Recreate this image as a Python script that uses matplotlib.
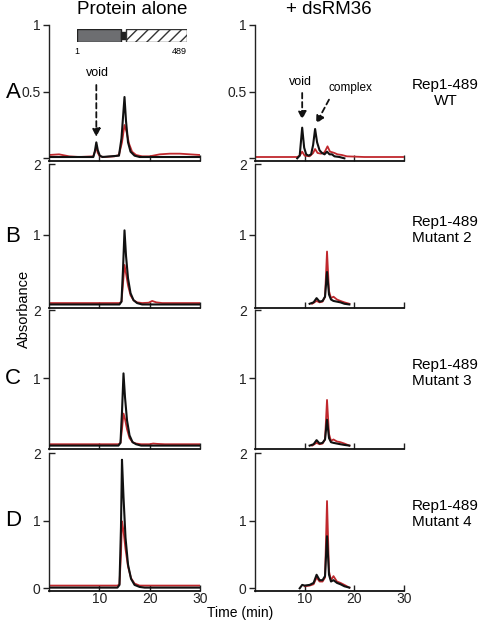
import matplotlib
matplotlib.use("Agg")
import matplotlib.pyplot as plt
from matplotlib.patches import Rectangle

plt.rcParams["font.family"] = ["Liberation Sans", "DejaVu Sans"]

W, H = 480, 622
BLACK = "#111111"
RED = "#c0282d"

# ---------------- data ----------------
PANELS = ["A", "B", "C", "D"]
SAMPLES = ["Rep1-489\nWT", "Rep1-489\nMutant 2", "Rep1-489\nMutant 3", "Rep1-489\nMutant 4"]
TOPS = [1.0, 2.0, 2.0, 2.0]

# left column: protein alone
a_left_black_t = [0, 8.8, 9.1, 9.4, 9.7, 10.1, 10.6, 13.9, 14.4, 15.0, 15.3, 15.7, 16.2, 17.0, 18.0, 30]
a_left_black_y = [0.01, 0.01, 0.05, 0.12, 0.06, 0.02, 0.01, 0.02, 0.15, 0.46, 0.28, 0.12, 0.05, 0.02, 0.01, 0.01]
a_left_red_t = [0, 2, 4, 6, 8.8, 9.1, 9.4, 9.7, 10.1, 11, 13, 13.9, 14.5, 15.0, 15.4, 15.9, 16.5, 17.3, 18.5, 20, 22, 24, 26, 28, 30]
a_left_red_y = [0.025, 0.03, 0.015, 0.01, 0.015, 0.05, 0.08, 0.04, 0.015, 0.01, 0.015, 0.025, 0.12, 0.25, 0.2, 0.11, 0.05, 0.025, 0.015, 0.015, 0.03, 0.035, 0.035, 0.03, 0.025]

b_left_black_t = [0, 14.0, 14.4, 14.7, 15.0, 15.3, 15.7, 16.2, 16.8, 17.5, 18.5, 30]
b_left_black_y = [0.01, 0.01, 0.05, 0.5, 1.06, 0.7, 0.38, 0.17, 0.07, 0.03, 0.01, 0.01]
b_left_red_t = [0, 14.0, 14.4, 14.7, 15.0, 15.3, 15.7, 16.2, 16.8, 17.5, 18.5, 19.8, 20.5, 21.3, 22.5, 30]
b_left_red_y = [0.03, 0.03, 0.05, 0.3, 0.57, 0.45, 0.28, 0.14, 0.07, 0.04, 0.03, 0.035, 0.06, 0.04, 0.03, 0.03]

c_left_black_t = [0, 13.8, 14.2, 14.5, 14.8, 15.1, 15.5, 16.0, 16.6, 17.3, 18.3, 30]
c_left_black_y = [0.01, 0.01, 0.05, 0.5, 1.07, 0.72, 0.38, 0.16, 0.06, 0.03, 0.01, 0.01]
c_left_red_t = [0, 13.8, 14.2, 14.5, 14.8, 15.1, 15.5, 16.0, 16.6, 17.3, 18.3, 20, 20.7, 21.5, 23, 30]
c_left_red_y = [0.03, 0.03, 0.05, 0.25, 0.48, 0.4, 0.25, 0.12, 0.06, 0.04, 0.03, 0.03, 0.04, 0.035, 0.03, 0.03]

d_left_black_t = [0, 13.6, 14.0, 14.3, 14.5, 14.8, 15.2, 15.7, 16.3, 17.0, 18.0, 19, 30]
d_left_black_y = [0.01, 0.01, 0.05, 0.9, 1.9, 1.35, 0.75, 0.35, 0.14, 0.05, 0.02, 0.01, 0.01]
d_left_red_t = [0, 13.6, 14.0, 14.3, 14.5, 14.8, 15.2, 15.7, 16.3, 17.0, 18.0, 19, 30]
d_left_red_y = [0.04, 0.04, 0.06, 0.5, 0.99, 0.85, 0.58, 0.32, 0.15, 0.07, 0.04, 0.04, 0.04]

# right column: + dsRM36
a_right_black_t = [8.5, 9.0, 9.5, 9.9, 10.3, 10.8, 11.3, 11.7, 12.1, 12.5, 13.0, 13.5, 14.0, 14.5, 15.0, 15.5, 16.0, 17, 18]
a_right_black_y = [0.0, 0.02, 0.23, 0.08, 0.03, 0.02, 0.03, 0.1, 0.22, 0.12, 0.06, 0.04, 0.03, 0.05, 0.03, 0.03, 0.015, 0.01, 0.0]
a_right_red_t = [0, 5, 8.5, 9.0, 9.5, 10.0, 11.0, 11.7, 12.1, 12.6, 13.3, 14.0, 14.6, 15.1, 15.6, 16.0, 16.6, 17.5, 18.5, 22, 26, 30]
a_right_red_y = [0.01, 0.01, 0.01, 0.02, 0.05, 0.02, 0.015, 0.04, 0.07, 0.04, 0.035, 0.045, 0.09, 0.05, 0.045, 0.04, 0.03, 0.025, 0.015, 0.01, 0.01, 0.01]

b_right_black_t = [11.0, 11.8, 12.4, 13.0, 13.6, 14.1, 14.5, 14.9, 15.3, 15.8, 16.5, 17.2, 18.0, 19.0]
b_right_black_y = [0.02, 0.04, 0.1, 0.05, 0.06, 0.12, 0.47, 0.15, 0.08, 0.06, 0.05, 0.04, 0.02, 0.01]
b_right_red_t = [11.5, 12.4, 13.0, 13.6, 14.1, 14.5, 14.9, 15.3, 15.8, 16.5, 17.2, 18.0, 19.0]
b_right_red_y = [0.02, 0.06, 0.04, 0.05, 0.12, 0.76, 0.2, 0.1, 0.12, 0.08, 0.06, 0.04, 0.02]

c_right_black_t = [11.0, 11.8, 12.4, 13.0, 13.6, 14.1, 14.5, 14.9, 15.3, 15.8, 16.5, 17.2, 18.0, 19.0]
c_right_black_y = [0.01, 0.03, 0.09, 0.04, 0.05, 0.1, 0.39, 0.12, 0.06, 0.05, 0.04, 0.03, 0.02, 0.01]
c_right_red_t = [11.5, 12.4, 13.0, 13.6, 14.1, 14.5, 14.9, 15.3, 15.8, 16.5, 17.2, 18.0, 19.0]
c_right_red_y = [0.01, 0.05, 0.03, 0.04, 0.1, 0.68, 0.18, 0.08, 0.1, 0.07, 0.06, 0.04, 0.01]

d_right_black_t = [9.0, 9.5, 10.0, 11.0, 11.8, 12.4, 13.0, 13.6, 14.1, 14.5, 14.9, 15.3, 15.8, 16.5, 17.2, 18.0, 19.0]
d_right_black_y = [0.0, 0.05, 0.04, 0.05, 0.08, 0.2, 0.12, 0.12, 0.18, 0.77, 0.2, 0.1, 0.12, 0.08, 0.06, 0.03, 0.01]
d_right_red_t = [10.0, 11.0, 11.8, 12.4, 13.0, 13.6, 14.1, 14.5, 14.9, 15.3, 15.8, 16.5, 17.2, 18.0, 19.0]
d_right_red_y = [0.03, 0.04, 0.06, 0.16, 0.1, 0.1, 0.16, 1.29, 0.25, 0.12, 0.18, 0.1, 0.08, 0.05, 0.01]

LEFT = [
    (a_left_black_t, a_left_black_y, a_left_red_t, a_left_red_y),
    (b_left_black_t, b_left_black_y, b_left_red_t, b_left_red_y),
    (c_left_black_t, c_left_black_y, c_left_red_t, c_left_red_y),
    (d_left_black_t, d_left_black_y, d_left_red_t, d_left_red_y),
]
RIGHT = [
    (a_right_black_t, a_right_black_y, a_right_red_t, a_right_red_y),
    (b_right_black_t, b_right_black_y, b_right_red_t, b_right_red_y),
    (c_right_black_t, c_right_black_y, c_right_red_t, c_right_red_y),
    (d_right_black_t, d_right_black_y, d_right_red_t, d_right_red_y),
]

# ---------------- layout (pixels) ----------------
COL_X = [(49, 200), (255, 404)]
ROW_Y = [(25, 161), (164, 308), (310, 449), (453, 591)]


def px_rect(x0, x1, y0, y1):
    return [x0 / W, 1 - y1 / H, (x1 - x0) / W, (y1 - y0) / H]


fig = plt.figure(figsize=(W / 100, H / 100), dpi=100)

axes = {}
for r in range(4):
    for c, traces in enumerate([LEFT, RIGHT]):
        ax = fig.add_axes(px_rect(*COL_X[c], *ROW_Y[r]))
        axes[(r, c)] = ax
        bt, by, rt, ry = traces[r]
        ax.plot(rt, ry, color=RED, lw=1.3, zorder=2, solid_joinstyle="round")
        ax.plot(bt, by, color=BLACK, lw=1.5, zorder=3, solid_joinstyle="round")
        top = TOPS[r]
        ax.set_xlim(0, 30)
        ax.set_ylim(-0.02 * top, top)
        for s in ("top", "right"):
            ax.spines[s].set_visible(False)
        ax.spines["left"].set_color("#222222")
        ax.spines["bottom"].set_color("#111111")
        ax.spines["left"].set_linewidth(1.0)
        ax.spines["bottom"].set_linewidth(1.3)
        ax.set_xticks([10, 20, 30])
        ax.tick_params(axis="x", direction="in", length=4, width=1, pad=1,
                       labelsize=10, colors="#222222")
        if r < 3:
            ax.set_xticklabels([])
        if r == 0:
            ax.set_yticks([0, 0.5, 1])
            ax.set_yticklabels(["", "0.5", "1"])
        else:
            if r < 3:
                ax.set_yticks([1])
                ax.set_yticklabels(["1"])
            else:
                ax.set_yticks([0, 1])
                ax.set_yticklabels(["0", "1"])
            # top tick of stacked panels points inward
            ax.set_yticks([top], minor=True)
            ax.set_yticklabels(["2"], minor=True)
            ax.tick_params(axis="y", which="minor", direction="in", length=4,
                           width=1, pad=6, labelsize=10, colors="#222222")
        ax.tick_params(axis="y", which="major", direction="out", length=4,
                       width=1, pad=2, labelsize=10, colors="#222222")
        ax.patch.set_alpha(0)

# column titles
fig.text(132 / W, 1 - 9 / H, "Protein alone", ha="center", va="center", fontsize=13.5)
fig.text(329 / W, 1 - 9 / H, "+ dsRM36", ha="center", va="center", fontsize=13.5)

# panel letters and sample labels
letter_y = [92, 236, 379, 521]
sample_y = [93, 230, 373, 514]
for r in range(4):
    fig.text(13 / W, 1 - letter_y[r] / H, PANELS[r], ha="center", va="center", fontsize=16)
    fig.text(412 / W, 1 - sample_y[r] / H, SAMPLES[r], ha="left", va="center",
             fontsize=11, linespacing=1.15, multialignment="center" if r == 0 else "left")

fig.text(24 / W, 1 - 309 / H, "Absorbance", rotation=90, ha="center", va="center", fontsize=10.5)
fig.text(240 / W, 1 - 613 / H, "Time (min)", ha="center", va="center", fontsize=10)

# annotations in panel A
axA, axA2 = axes[(0, 0)], axes[(0, 1)]
arrow = dict(arrowstyle="-|>", linestyle=(0, (3, 2)), color=BLACK,
             lw=1.3, mutation_scale=12, shrinkA=0, shrinkB=0)
axA.annotate("", xy=(9.4, 0.16), xytext=(9.4, 0.55), arrowprops=arrow)
axA.text(9.6, 0.64, "void", ha="center", va="center", fontsize=9)
axA2.annotate("", xy=(9.5, 0.29), xytext=(9.5, 0.49), arrowprops=arrow)
axA2.text(9.1, 0.57, "void", ha="center", va="center", fontsize=9)
axA2.annotate("", xy=(12.3, 0.26), xytext=(14.9, 0.44), arrowprops=arrow)
axA2.text(19.3, 0.53, "complex", ha="center", va="center", fontsize=8.5)

# domain diagram of Rep1-489
dom = fig.add_axes(px_rect(77, 187, 29, 42))
dom.set_xlim(1, 489)
dom.set_ylim(0, 1)
dom.axis("off")
dom.add_patch(Rectangle((1, 0), 195, 1, facecolor="#6d6e71", edgecolor="#222222", lw=1))
dom.add_patch(Rectangle((196, 0.25), 22, 0.5, facecolor="#222222", edgecolor="#222222", lw=1))
dom.add_patch(Rectangle((218, 0), 271, 1, facecolor="white", edgecolor="#333333",
                        hatch="///", lw=1))
dom.text(1, -0.35, "1", ha="center", va="top", fontsize=6.5)
dom.text(489, -0.35, "489", ha="right", va="top", fontsize=6.5)

fig.savefig("out.png", dpi=100)
